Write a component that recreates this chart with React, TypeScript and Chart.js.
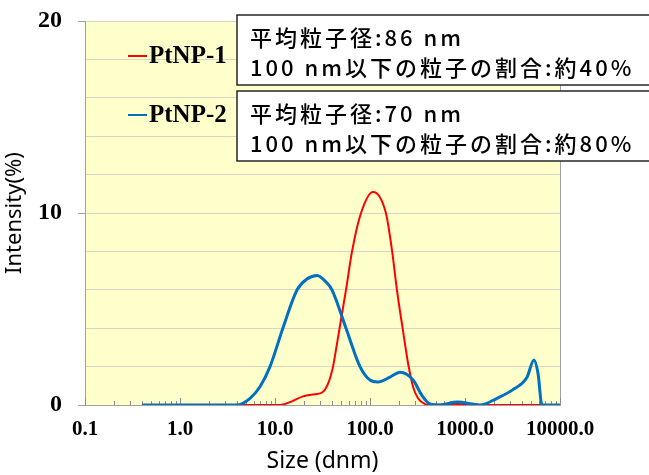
import React, { useEffect, useRef } from 'react';
import { Chart, registerables } from 'chart.js';

Chart.register(...registerables);

// ---------- data ----------
const seriesNames = ['PtNP-1', 'PtNP-2'];
const seriesColors = ['#FF0000', '#0070C0'];

const p1Size = [0.4, 11.3, 14.4, 19.7, 25.1, 31.3, 36.1, 40.8, 46, 55.9, 64.7, 80.4, 107.6, 147, 171, 192, 222, 251, 284, 320, 379, 428, 824, 1438, 6460];
const p1Intensity = [0, 0, 0.15, 0.45, 0.55, 0.65, 1.1, 2.0, 3.5, 6.0, 8.0, 10.0, 11.1, 10.0, 8.0, 6.0, 3.9, 2.2, 0.95, 0.35, 0.05, 0, 0.05, 0, 0];

const p2Size = [0.4, 3.98, 5.46, 6.95, 8.86, 12.1, 17.1, 21.5, 27.7, 35.3, 39.8, 55.9, 78.5, 100, 121, 162, 207, 284, 352, 428, 546, 824, 1438, 2173, 3199, 4498, 5321, 5866, 6460, 10000];
const p2Intensity = [0, 0, 0.35, 0.95, 2.0, 4.0, 6.0, 6.55, 6.75, 6.35, 6.0, 4.0, 2.0, 1.3, 1.2, 1.45, 1.7, 1.3, 0.5, 0.05, 0, 0.15, 0, 0.35, 0.8, 1.45, 2.35, 1.65, 0, 0];

const xDecades = [0.1, 1, 10, 100, 1000, 10000];
const yMin = 0;
const yMax = 20;
const yStep = 2;
const yLabelValues = [0, 10, 20];

const noteBox1 = ['平均粒子径:86 nm', '100 nm以下の粒子の割合:約40%'];
const noteBox2 = ['平均粒子径:70 nm', '100 nm以下の粒子の割合:約80%'];
const xTitle = 'Size (dnm)';
const yTitle = 'Intensity(%)';

// ---------- styles ----------
const PLOT_BG = '#FFFFCC';
const GRID = '#d6d6c6';
const AXIS = '#a0a0a0';
const SERIF = '"Liberation Serif", "Times New Roman", serif';
const SANS = '"Noto Sans", "DejaVu Sans", sans-serif';
const JP = '"Noto Sans CJK JP", "Noto Sans", sans-serif';

const decorPlugin = {
  id: 'decor',
  beforeDraw(chart: any) {
    const { ctx, chartArea } = chart;
    ctx.save();
    ctx.fillStyle = '#ffffff';
    ctx.fillRect(0, 0, chart.width, chart.height);
    ctx.fillStyle = PLOT_BG;
    ctx.fillRect(chartArea.left, chartArea.top, chartArea.right - chartArea.left, chartArea.bottom - chartArea.top);
    ctx.restore();
  },
  beforeDatasetsDraw(chart: any) {
    const { ctx, chartArea } = chart;
    const xs = chart.scales.x;
    ctx.save();
    ctx.strokeStyle = AXIS;
    ctx.lineWidth = 1;
    ctx.beginPath();
    ctx.moveTo(chartArea.right + 0.5, chartArea.top);
    ctx.lineTo(chartArea.right + 0.5, chartArea.bottom);
    ctx.stroke();
    ctx.strokeStyle = '#8c8c8c';
    for (const t of xs.ticks) {
      const px = Math.round(xs.getPixelForValue(t.value)) + 0.5;
      const major = xDecades.indexOf(t.value) >= 0;
      const len = major ? 7 : 4;
      ctx.beginPath();
      ctx.moveTo(px, chartArea.bottom);
      ctx.lineTo(px, chartArea.bottom - len);
      ctx.stroke();
    }
    ctx.restore();
  },
  afterDraw(chart: any) {
    const { ctx } = chart;
    ctx.save();
    const legendY = [56, 115];
    chart.data.datasets.forEach((ds: any, i: number) => {
      const y = legendY[i];
      ctx.strokeStyle = ds.borderColor;
      ctx.lineWidth = 2;
      ctx.beginPath();
      ctx.moveTo(128, y);
      ctx.lineTo(147, y);
      ctx.stroke();
      ctx.fillStyle = '#000';
      ctx.font = 'bold 25px ' + SERIF;
      ctx.textAlign = 'left';
      ctx.textBaseline = 'middle';
      ctx.fillText(ds.label, 149, y + 1);
    });
    const boxes = [
      { top: 15, bottom: 85, lines: noteBox1 },
      { top: 91, bottom: 161, lines: noteBox2 },
    ];
    for (const b of boxes) {
      ctx.fillStyle = '#ffffff';
      ctx.fillRect(237, b.top, 430, b.bottom - b.top);
      ctx.strokeStyle = '#262626';
      ctx.lineWidth = 1.5;
      ctx.strokeRect(237, b.top, 430, b.bottom - b.top);
      ctx.fillStyle = '#000';
      ctx.font = '500 22px ' + JP;
      (ctx as any).letterSpacing = '3px';
      ctx.textAlign = 'left';
      ctx.textBaseline = 'middle';
      b.lines.forEach((line: string, j: number) => {
        ctx.fillText(line, 250, b.top + 23 + j * 30);
      });
      (ctx as any).letterSpacing = '0px';
    }
    ctx.restore();
  },
};

export default function App() {
  const canvasRef = useRef<HTMLCanvasElement | null>(null);

  useEffect(() => {
    const canvas = canvasRef.current;
    if (!canvas) return;

    const chart = new Chart(canvas, {
      type: 'line',
      data: {
        datasets: [
          {
            label: seriesNames[0],
            data: p1Size.map((s, i) => ({ x: s, y: p1Intensity[i] })),
            borderColor: seriesColors[0],
            backgroundColor: seriesColors[0],
            borderWidth: 2,
            pointRadius: 0,
            fill: false,
            cubicInterpolationMode: 'monotone',
            order: 2,
          },
          {
            label: seriesNames[1],
            data: p2Size.map((s, i) => ({ x: s, y: p2Intensity[i] })),
            borderColor: seriesColors[1],
            backgroundColor: seriesColors[1],
            borderWidth: 3,
            pointRadius: 0,
            fill: false,
            cubicInterpolationMode: 'monotone',
            order: 1,
          },
        ],
      },
      options: {
        animation: false,
        responsive: false,
        devicePixelRatio: 1,
        events: [],
        layout: { padding: { top: 21, right: 89, left: 0, bottom: 0 } },
        plugins: {
          legend: { display: false },
          tooltip: { enabled: false },
          title: { display: false },
        },
        scales: {
          x: {
            type: 'logarithmic',
            min: xDecades[0],
            max: xDecades[xDecades.length - 1],
            afterBuildTicks: (scale: any) => {
              const ticks: any[] = [];
              for (let d = 0; d < xDecades.length - 1; d++) {
                for (let k = 1; k <= 9; k++) ticks.push({ value: xDecades[d] * k, major: k === 1 });
              }
              ticks.push({ value: xDecades[xDecades.length - 1], major: true });
              scale.ticks = ticks;
            },
            afterFit: (scale: any) => {
              scale.height = 70;
            },
            ticks: {
              autoSkip: false,
              maxRotation: 0,
              minRotation: 0,
              padding: 12,
              color: '#000',
              font: { family: SERIF, size: 21, weight: 'bold' },
              callback: (v: any) => (xDecades.indexOf(Number(v)) >= 0 ? Number(v).toFixed(1) : ''),
            },
            grid: { display: true, drawOnChartArea: false, drawTicks: false },
            border: { display: true, color: AXIS, width: 1 },
            title: {
              display: true,
              text: xTitle,
              color: '#000',
              font: { family: SANS, size: 23 },
              padding: { top: 0, bottom: 0 },
            },
          },
          y: {
            type: 'linear',
            min: yMin,
            max: yMax,
            afterFit: (scale: any) => {
              scale.width = 85;
              scale.paddingTop = 0;
              scale.paddingBottom = 0;
            },
            ticks: {
              stepSize: yStep,
              padding: 16,
              color: '#000',
              font: { family: SERIF, size: 24, weight: 'bold' },
              callback: (v: any) => (yLabelValues.indexOf(Number(v)) >= 0 ? String(v) : ''),
            },
            grid: {
              color: (c: any) => (c.tick && c.tick.value === 0 ? AXIS : GRID),
              tickColor: (c: any) => (c.tick && yLabelValues.indexOf(c.tick.value) >= 0 ? AXIS : 'rgba(0,0,0,0)'),
              tickLength: 7,
              lineWidth: 1,
            },
            border: { display: true, color: AXIS, width: 1 },
            title: {
              display: true,
              text: yTitle,
              color: '#000',
              font: { family: SANS, size: 22 },
              padding: { top: 2, bottom: 0 },
            },
          },
        },
      },
      plugins: [decorPlugin],
    } as any);

    return () => chart.destroy();
  }, []);

  return (
    <div style={{ position: 'absolute', left: 0, top: 0, width: 649, height: 475, background: '#fff' }}>
      <canvas ref={canvasRef} width={649} height={475} style={{ display: 'block', width: 649, height: 475 }} />
    </div>
  );
}
